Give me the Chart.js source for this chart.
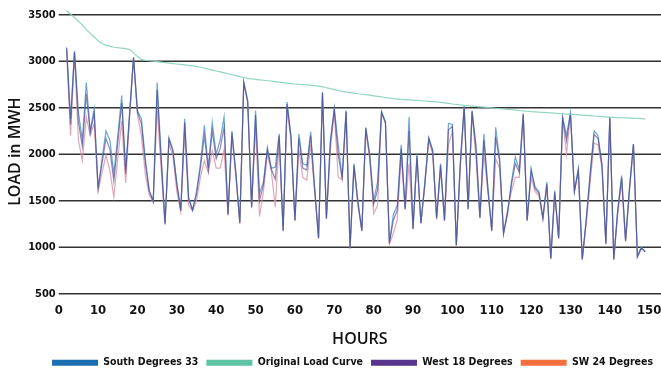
<!DOCTYPE html>
<html>
<head>
<meta charset="utf-8">
<script src="https://cdn.jsdelivr.net/npm/chart.js@4"></script>
<style>
  html, body { margin: 0; padding: 0; background: #fff; }
</style>
</head>
<body>
<canvas id="myChart" width="661" height="371"></canvas>
<script>
// hours 1..149, one value per hour (null = no reading)
const original = [
  null,3540,3505,3470,3430,3390,3340,3300,3260,3220,
  3190,3170,3160,3150,3145,3140,3135,3125,3090,3050,
  3020,3010,3005,3000,2995,2990,2985,2980,2975,2970,
  2965,2960,2955,2950,2945,2935,2925,2915,2905,2895,
  2885,2875,2865,2855,2845,2835,2825,2815,2810,2805,
  2800,2795,2790,2785,2780,2775,2770,2765,2760,2755,
  2750,2748,2745,2742,2738,2732,2725,2715,2705,2695,
  2685,2675,2668,2662,2656,2650,2645,2640,2635,2628,
  2622,2616,2610,2604,2598,2594,2590,2587,2584,2581,
  2578,2575,2572,2569,2566,2562,2557,2552,2546,2540,
  2535,2530,2526,2522,2518,2514,2510,2506,2502,2498,
  2494,2490,2486,2482,2478,2474,2470,2466,2462,2458,
  2455,2452,2450,2447,2444,2441,2438,2435,2432,2429,
  2426,2423,2420,2417,2414,2411,2408,2405,2402,2399,
  2396,2394,2392,2390,2388,2386,2384,2382,2380
]
const south = [
  null,3150,2380,3110,2450,2150,2770,2250,2490,1640,
  1950,2250,2150,1790,2200,2630,1830,2450,3040,2470,
  2380,1950,1610,1500,2770,2000,1260,2180,2050,1700,
  1400,2380,1540,1400,1600,1900,2310,1850,2340,2000,
  2150,2400,1360,2250,1800,1270,2780,2580,1440,2470,
  1580,1700,2070,1850,1860,2220,1180,2560,2200,1290,
  2220,1900,1880,2240,1650,1100,2670,1310,2150,2500,
  2100,1750,2470,1000,1900,1500,1180,2290,2000,1500,
  1700,2460,2350,1050,1350,1450,2100,1420,2400,1200,
  2000,1260,1700,2180,2050,1320,1900,1290,2330,2320,
  1020,1900,2520,1420,2470,2100,1320,2220,1650,1180,
  2290,1950,1150,1350,1700,1970,1830,2440,1290,1850,
  1650,1600,1320,1700,880,1610,1100,2400,2200,2450,
  1600,1850,870,1300,1800,2250,2200,1900,1040,2400,
  870,1400,1770,1070,1650,2110,900,1000,950
]
const west = [
  null,3140,2320,3100,2350,2080,2650,2230,2440,1630,
  1900,2170,2050,1710,2120,2550,1790,2430,3040,2450,
  2330,1900,1600,1490,2690,1950,1250,2160,2030,1670,
  1390,2340,1510,1400,1570,1850,2200,1830,2250,1950,
  2060,2290,1350,2230,1790,1260,2770,2570,1430,2420,
  1500,1670,2050,1840,1730,2200,1180,2540,2180,1290,
  2170,1850,1830,2200,1630,1100,2660,1310,2120,2480,
  1990,1740,2460,990,1880,1480,1180,2280,1980,1460,
  1620,2450,2340,1040,1290,1400,2060,1410,2250,1200,
  1980,1260,1680,2170,2030,1310,1880,1290,2260,2300,
  1020,1880,2510,1410,2460,2050,1320,2150,1640,1180,
  2190,1920,1150,1370,1670,1900,1800,2430,1290,1820,
  1630,1580,1310,1680,880,1590,1100,2390,2140,2440,
  1600,1830,870,1290,1770,2210,2170,1880,1040,2400,
  870,1390,1750,1070,1630,2110,900,990,950
]
const sw = [
  null,3120,2200,3080,2150,1930,2400,2200,2330,1600,
  1800,1990,1820,1540,1950,2360,1690,2400,3040,2420,
  2200,1780,1560,1480,2500,1850,1240,2120,1980,1600,
  1380,2250,1450,1390,1500,1750,1930,1800,2040,1850,
  1850,2050,1340,2200,1750,1250,2760,2550,1420,2300,
  1330,1600,2000,1820,1430,2150,1170,2480,2150,1280,
  2050,1750,1720,2100,1600,1090,2650,1300,2050,2450,
  1750,1730,2450,980,1850,1450,1170,2250,1950,1360,
  1450,2440,2330,1030,1150,1300,1980,1400,1900,1190,
  1950,1250,1650,2150,2000,1300,1850,1280,2100,2250,
  1010,1850,2500,1400,2450,1950,1310,2000,1600,1170,
  1950,1850,1140,1400,1600,1750,1750,2420,1280,1750,
  1600,1550,1300,1650,870,1550,1090,2380,2000,2430,
  1600,1800,860,1250,1700,2120,2100,1850,1030,2390,
  860,1350,1700,1060,1600,2100,890,980,960
]

const names = ['South Degrees 33', 'Original Load Curve', 'West 18 Degrees', 'SW 24 Degrees']
const legendColors = ['#1d6db2', '#5dc4a4', '#5a3590', '#f36f3f']
const xTicks = [0, 10, 20, 30, 40, 50, 60, 70, 80, 90, 100, 110, 120, 130, 140, 150]
const yTicks = [500, 1000, 1500, 2000, 2500, 3000, 3500]

const narrow = "'DejaVu Sans Condensed', 'Roboto', sans-serif"

function toPoints(arr){
  return arr.map((v, i) => ({x: i + 1, y: v}))
}

// horizontal rules at the y ticks, placed by the y scale
const hGrid = {
  id: 'hGrid',
  beforeDatasetsDraw(chart){
    const {ctx, chartArea, scales} = chart
    ctx.save()
    ctx.strokeStyle = '#333'
    ctx.lineWidth = 1.6
    yTicks.forEach(v => {
      const py = scales.y.getPixelForValue(v)
      ctx.beginPath()
      ctx.moveTo(chartArea.left, py)
      ctx.lineTo(chartArea.right, py)
      ctx.stroke()
    })
    ctx.restore()
  }
}

const ctx = document.getElementById('myChart')

new Chart(ctx, {
  type: 'line',
  data: {
    datasets: [
      { label: names[0], data: toPoints(south), borderColor: 'rgba(95,155,210,0.9)', borderWidth: 1.2, order: 2 },
      { label: names[1], data: toPoints(original), borderColor: 'rgba(140,212,188,0.95)', borderWidth: 1.2, order: 0 },
      { label: names[2], data: toPoints(west), borderColor: 'rgba(70,55,125,0.6)', borderWidth: 1.2, order: 1 },
      { label: names[3], data: toPoints(sw), borderColor: 'rgba(220,150,172,0.85)', borderWidth: 1.2, order: 3 }
    ]
  },
  plugins: [hGrid],
  options: {
    responsive: false,
    animation: false,
    devicePixelRatio: 1,
    elements: { point: { radius: 0 }, line: { tension: 0 } },
    layout: { padding: { left: 0, right: 0, top: 0, bottom: -7 } },
    scales: {
      x: {
        type: 'linear',
        min: 0,
        max: 153,
        grid: { display: false, drawTicks: false },
        border: { display: false },
        afterBuildTicks: s => { s.ticks = xTicks.map(v => ({value: v})) },
        afterFit: s => { s.paddingRight = 0 },
        ticks: { autoSkip: false, maxRotation: 0, padding: 9, color: '#111',
                 font: { family: narrow, size: 13, weight: 'bold' } },
        title: { display: true, text: 'HOURS', color: '#111', padding: { top: 3, bottom: 0 },
                 font: { family: "'Open Sans', sans-serif", size: 16, weight: '600' } }
      },
      y: {
        min: 500,
        max: 3555,
        border: { display: false },
        grid: { display: false, drawTicks: false },
        afterBuildTicks: s => { s.ticks = yTicks.map(v => ({value: v})) },
        ticks: { autoSkip: false, padding: 3, color: '#111', callback: v => String(v),
                 font: { family: narrow, size: 11, weight: 'bold' } },
        title: { display: true, text: 'LOAD in MWH', color: '#111', padding: { top: 6, bottom: 0 },
                 font: { family: "'Open Sans', sans-serif", size: 16, weight: '600' } }
      }
    },
    plugins: {
      tooltip: { enabled: false },
      legend: {
        position: 'bottom',
        align: 'end',
        labels: {
          boxWidth: 46,
          boxHeight: 6,
          padding: 8,
          color: '#111',
          font: { family: narrow, size: 10.5, weight: 'bold' },
          sort: (a, b) => a.datasetIndex - b.datasetIndex,
          generateLabels: chart => {
            const items = Chart.defaults.plugins.legend.labels.generateLabels(chart)
            items.forEach(it => {
              it.fillStyle = legendColors[it.datasetIndex]
              it.strokeStyle = legendColors[it.datasetIndex]
              it.lineWidth = 0
            })
            return items
          }
        }
      }
    }
  }
})
</script>
</body>
</html>
